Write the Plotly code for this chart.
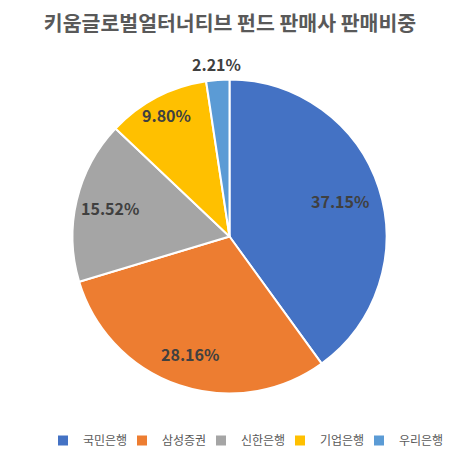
import math
import plotly.graph_objects as go

title = "키움글로벌얼터너티브 펀드 판매사 판매비중"
labels = ["국민은행", "삼성증권", "신한은행", "기업은행", "우리은행"]
values = [37.15, 28.16, 15.52, 9.80, 2.21]
colors = ["#4472C4", "#ED7D31", "#A5A5A5", "#FFC000", "#5B9BD5"]

# label placement (fraction of radius along each slice's mid-angle)
label_radius = [0.74, 0.79, 0.78, 0.87, 1.10]

OFF = 8                      # page body margin of the html page
W, H = 459 - OFF, 463 - OFF  # figure size so it fills the window
CX, CY, R = 229.5 - OFF, 236.5 - OFF, 157.0   # pie centre / radius in figure px

font_family = "Noto Sans CJK KR, Noto Sans, sans-serif"

fig = go.Figure(go.Pie(
    labels=labels,
    values=values,
    textinfo="none",
    marker=dict(colors=colors, line=dict(color="white", width=2)),
    sort=False,
    direction="clockwise",
    rotation=0,
    domain=dict(x=[(CX - R) / W, (CX + R) / W], y=[1 - (CY + R) / H, 1 - (CY - R) / H]),
    showlegend=True,
    hoverinfo="label+percent",
))

# data labels placed along each slice's mid-angle (angles derived from the values)
total = sum(values)
cum = 0.0
annotations = []
for v, rf in zip(values, label_radius):
    mid = (cum + v / 2) / total * 2 * math.pi
    cum += v
    px = CX + rf * R * math.sin(mid)
    py = CY - rf * R * math.cos(mid)
    annotations.append(dict(
        x=px / W, y=1 - py / H, xref="paper", yref="paper",
        text=f"<b>{v:.2f}%</b>", showarrow=False,
        xanchor="center", yanchor="middle",
        font=dict(family=font_family, size=16, color="#404040"),
    ))

fig.update_layout(
    width=W, height=H,
    margin=dict(l=0, r=0, t=0, b=0),
    paper_bgcolor="white",
    plot_bgcolor="white",
    title=dict(text=f"<b>{title}</b>", x=(230 - OFF) / W, xanchor="center",
               y=1 - (24 - OFF) / H, yanchor="middle",
               font=dict(family=font_family, size=20.5, color="#595959")),
    legend=dict(orientation="h", x=(63 - OFF - 20) / W, xanchor="left",
                y=1 - (455 - OFF) / H, yanchor="bottom",
                font=dict(family=font_family, size=12, color="#595959"),
                itemwidth=30, entrywidth=34, entrywidthmode="pixels",
                traceorder="normal", bgcolor="rgba(0,0,0,0)",
                # transparent, invisible title only widens the legend box so
                # the last entry is not clipped
                title=dict(text="_" * 82, side="top",
                           font=dict(family="DejaVu Sans", size=10,
                                     color="rgba(0,0,0,0)"))),
    annotations=annotations,
)

fig.write_html("out.html")
